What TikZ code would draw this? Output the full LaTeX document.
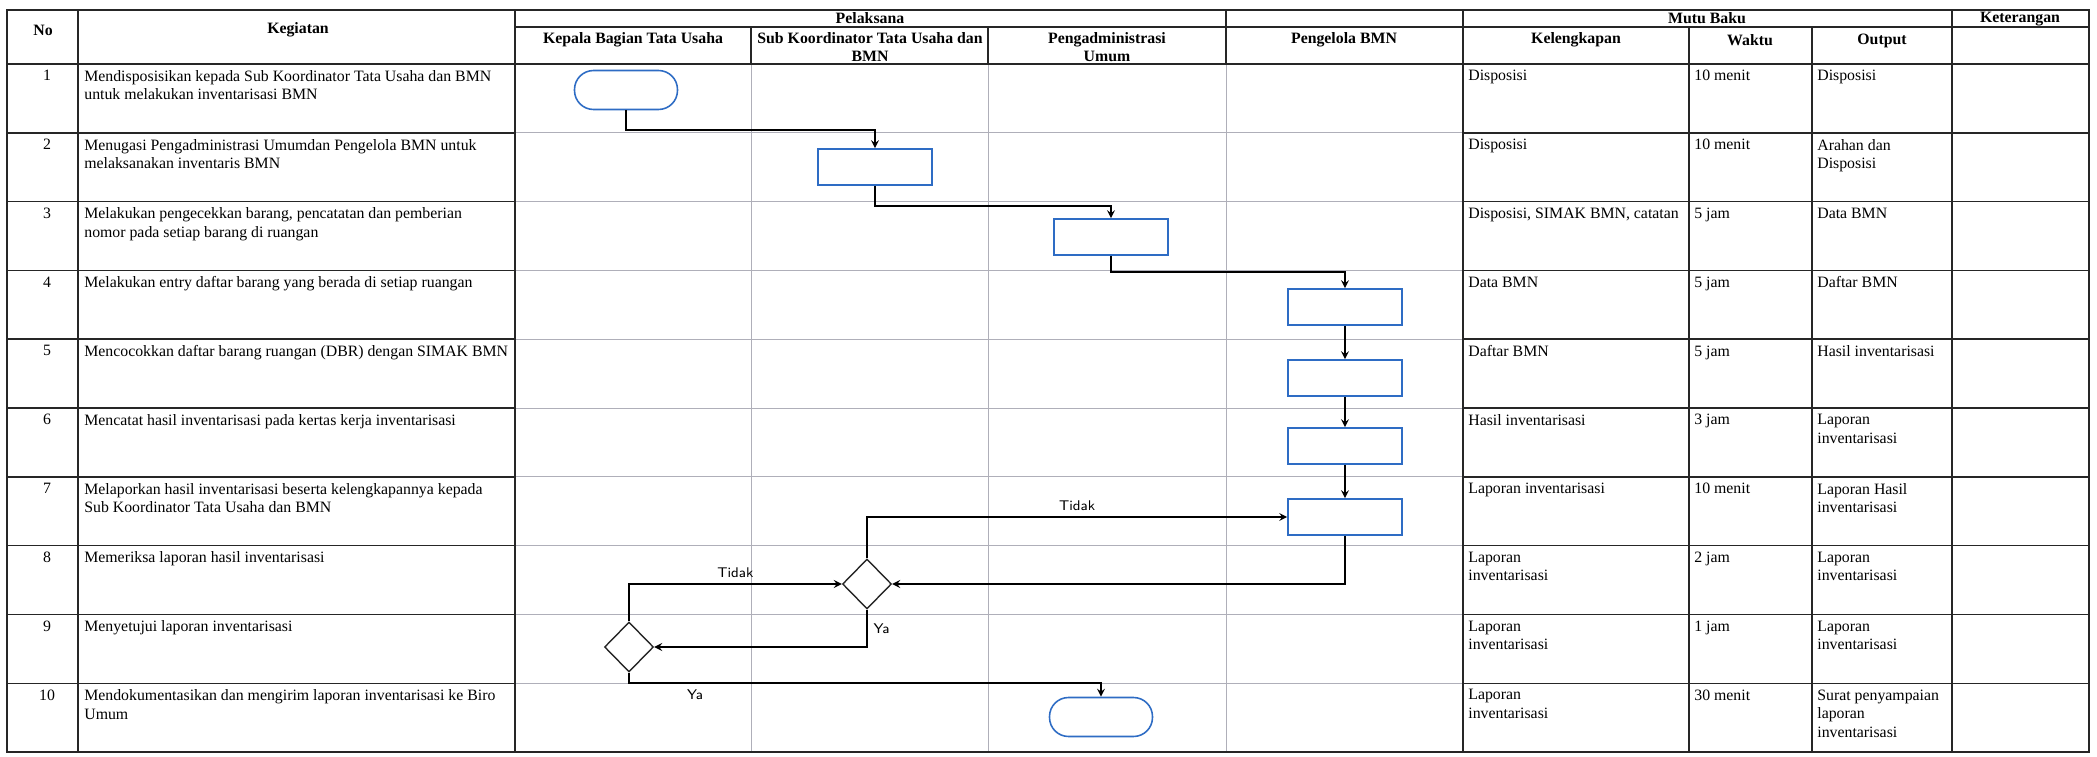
\documentclass[tikz,border=0pt]{standalone}
\usepackage{fontspec}
\setmainfont{Liberation Serif}
\usepackage{tikz}
\usetikzlibrary{shapes.geometric}

\definecolor{flowblue}{RGB}{46,108,196}
\definecolor{lanegray}{RGB}{175,175,185}

\begin{document}
\begin{tikzpicture}[x=0.02cm, y=-0.02cm, font=\fontsize{9}{10.6}\selectfont]

%
% Styles
%
\tikzstyle{tableline} = [draw=black!85, line width=0.8pt]
\tikzstyle{laneline}  = [draw=lanegray, line width=0.4pt]
\tikzstyle{headcell}  = [font=\fontsize{9}{10.6}\selectfont\bfseries, align=center, inner sep=0]
\tikzstyle{textcell}  = [anchor=north west, align=left, inner sep=0]
\tikzstyle{terminal}  = [rectangle, rounded corners=0.38cm, draw=flowblue, line width=0.9pt, minimum width=2.06cm, minimum height=0.78cm]
\tikzstyle{process}   = [rectangle, draw=flowblue, line width=0.9pt, minimum width=2.28cm, minimum height=0.72cm]
\tikzstyle{decision}  = [diamond, draw=black!85, line width=0.8pt, minimum width=0.98cm, minimum height=1cm, inner sep=0]
\tikzstyle{edge}      = [->, >=stealth, line width=1pt]
\tikzstyle{answer}    = [font=\fontsize{8}{9}\sffamily]

\useasboundingbox (0,0) rectangle (2097,757);

%
% Table
%
\foreach \x in {751,988,1226} \draw[laneline] (\x,64) -- (\x,752);
\foreach \i in {1,...,9} {
  \pgfmathsetmacro{\yrow}{64+68.8*\i}
  \draw[laneline]  (515,\yrow) -- (1463,\yrow);
  \draw[tableline] (7,\yrow) -- (515,\yrow);
  \draw[tableline] (1463,\yrow) -- (2089,\yrow);
}
\draw[tableline] (7,10) rectangle (2089,752);
\draw[tableline] (515,27) -- (2089,27);
\draw[tableline] (7,64) -- (2089,64);
\foreach \x in {78,515,1463,1952} \draw[tableline] (\x,10) -- (\x,752);
\foreach \x in {1689,1812} \draw[tableline] (\x,27) -- (\x,752);
\foreach \x in {751,988} \draw[tableline] (\x,27) -- (\x,64);
\draw[tableline] (1226,10) -- (1226,64);

\node[headcell] (hno)   at (43,30)    {No};
\node[headcell] (hkeg)  at (298,30)   {Kegiatan};
\node[headcell] (hpel)  at (870,18)   {Pelaksana};
\node[headcell] (hmutu) at (1707,18)  {Mutu Baku};
\node[headcell] (hket)  at (2020,19)  {Keterangan};
\node[headcell] (hkab)  at (633,40)   {Kepala Bagian Tata Usaha};
\node[headcell] (hsub)  at (870,47)   {Sub Koordinator Tata Usaha dan\\BMN};
\node[headcell] (hpum)  at (1107,47)  {Pengadministrasi\\Umum};
\node[headcell] (hbmn)  at (1344,40)  {Pengelola BMN};
\node[headcell] (hkel)  at (1576,40)  {Kelengkapan};
\node[headcell] (hwkt)  at (1750,40)  {Waktu};
\node[headcell] (hout)  at (1882,41)  {Output};

\foreach \no/\keg/\kel/\wkt/\outp [count=\i from 0] in {
  1/{Mendisposisikan kepada Sub Koordinator Tata Usaha dan BMN\\untuk melakukan inventarisasi BMN}/Disposisi/10 menit/Disposisi,
  2/{Menugasi Pengadministrasi Umumdan Pengelola BMN untuk\\melaksanakan inventaris BMN}/Disposisi/10 menit/{Arahan dan\\Disposisi},
  3/{Melakukan pengecekkan barang, pencatatan dan pemberian\\nomor pada setiap barang di ruangan}/{Disposisi, SIMAK BMN, catatan}/5 jam/Data BMN,
  4/{Melakukan entry daftar barang yang berada di setiap ruangan}/Data BMN/5 jam/Daftar BMN,
  5/{Mencocokkan daftar barang ruangan (DBR) dengan SIMAK BMN}/Daftar BMN/5 jam/Hasil inventarisasi,
  6/{Mencatat hasil inventarisasi pada kertas kerja inventarisasi}/Hasil inventarisasi/3 jam/{Laporan\\inventarisasi},
  7/{Melaporkan hasil inventarisasi beserta kelengkapannya kepada\\Sub Koordinator Tata Usaha dan BMN}/Laporan inventarisasi/10 menit/{Laporan Hasil\\inventarisasi},
  8/{Memeriksa laporan hasil inventarisasi}/{Laporan\\inventarisasi}/2 jam/{Laporan\\inventarisasi},
  9/{Menyetujui laporan inventarisasi}/{Laporan\\inventarisasi}/1 jam/{Laporan\\inventarisasi},
  10/{Mendokumentasikan dan mengirim laporan inventarisasi ke Biro\\Umum}/{Laporan\\inventarisasi}/30 menit/{Surat penyampaian\\laporan\\inventarisasi}} {
  \pgfmathsetmacro{\yrow}{64+68.8*\i+6}
  \node[anchor=north, inner sep=0] (no\no) at (47,\yrow) {\no};
  \node[textcell] (keg\no) at (84,\yrow)   {\keg};
  \node[textcell] (kel\no) at (1468,\yrow) {\kel};
  \node[textcell] (wkt\no) at (1694,\yrow) {\wkt};
  \node[textcell] (out\no) at (1817,\yrow) {\outp};
}

%
% Flow
%
\node[terminal] (start) at (626,90)   {};
\node[process]  (p2)    at (875,167)  {};
\node[process]  (p3)    at (1111,237) {};
\node[process]  (p4)    at (1345,307) {};
\node[process]  (p5)    at (1345,378) {};
\node[process]  (p6)    at (1345,446) {};
\node[process]  (p7)    at (1345,517) {};
\node[decision] (d8)    at (867,584)  {};
\node[decision] (d9)    at (629,647)  {};
\node[terminal] (stop)  at (1101,717) {};

\draw[edge] (start.south) -- ++(0,20) -| (p2.north);
\draw[edge] (p2.south) -- ++(0,20) -| (p3.north);
\draw[edge] (p3.south) -- ++(0,16) -| (p4.north);
\draw[edge] (p4) -- (p5);
\draw[edge] (p5) -- (p6);
\draw[edge] (p6) -- (p7);
\draw[edge] (p7.south) |- (d8.east);
\draw[edge] (d8.north) |- (p7.west) node[answer, pos=0.75, above] {Tidak};
\draw[edge] (d8.south) |- (d9.east) node[answer, pos=0.25, right] {Ya};
\draw[edge] (d9.north) |- (d8.west) node[answer, pos=0.75, above] {Tidak};
\draw[edge] (d9.south) -- ++(0,10) -| (stop.north) node[answer, pos=0.07, below] {Ya};

\end{tikzpicture}
\end{document}
